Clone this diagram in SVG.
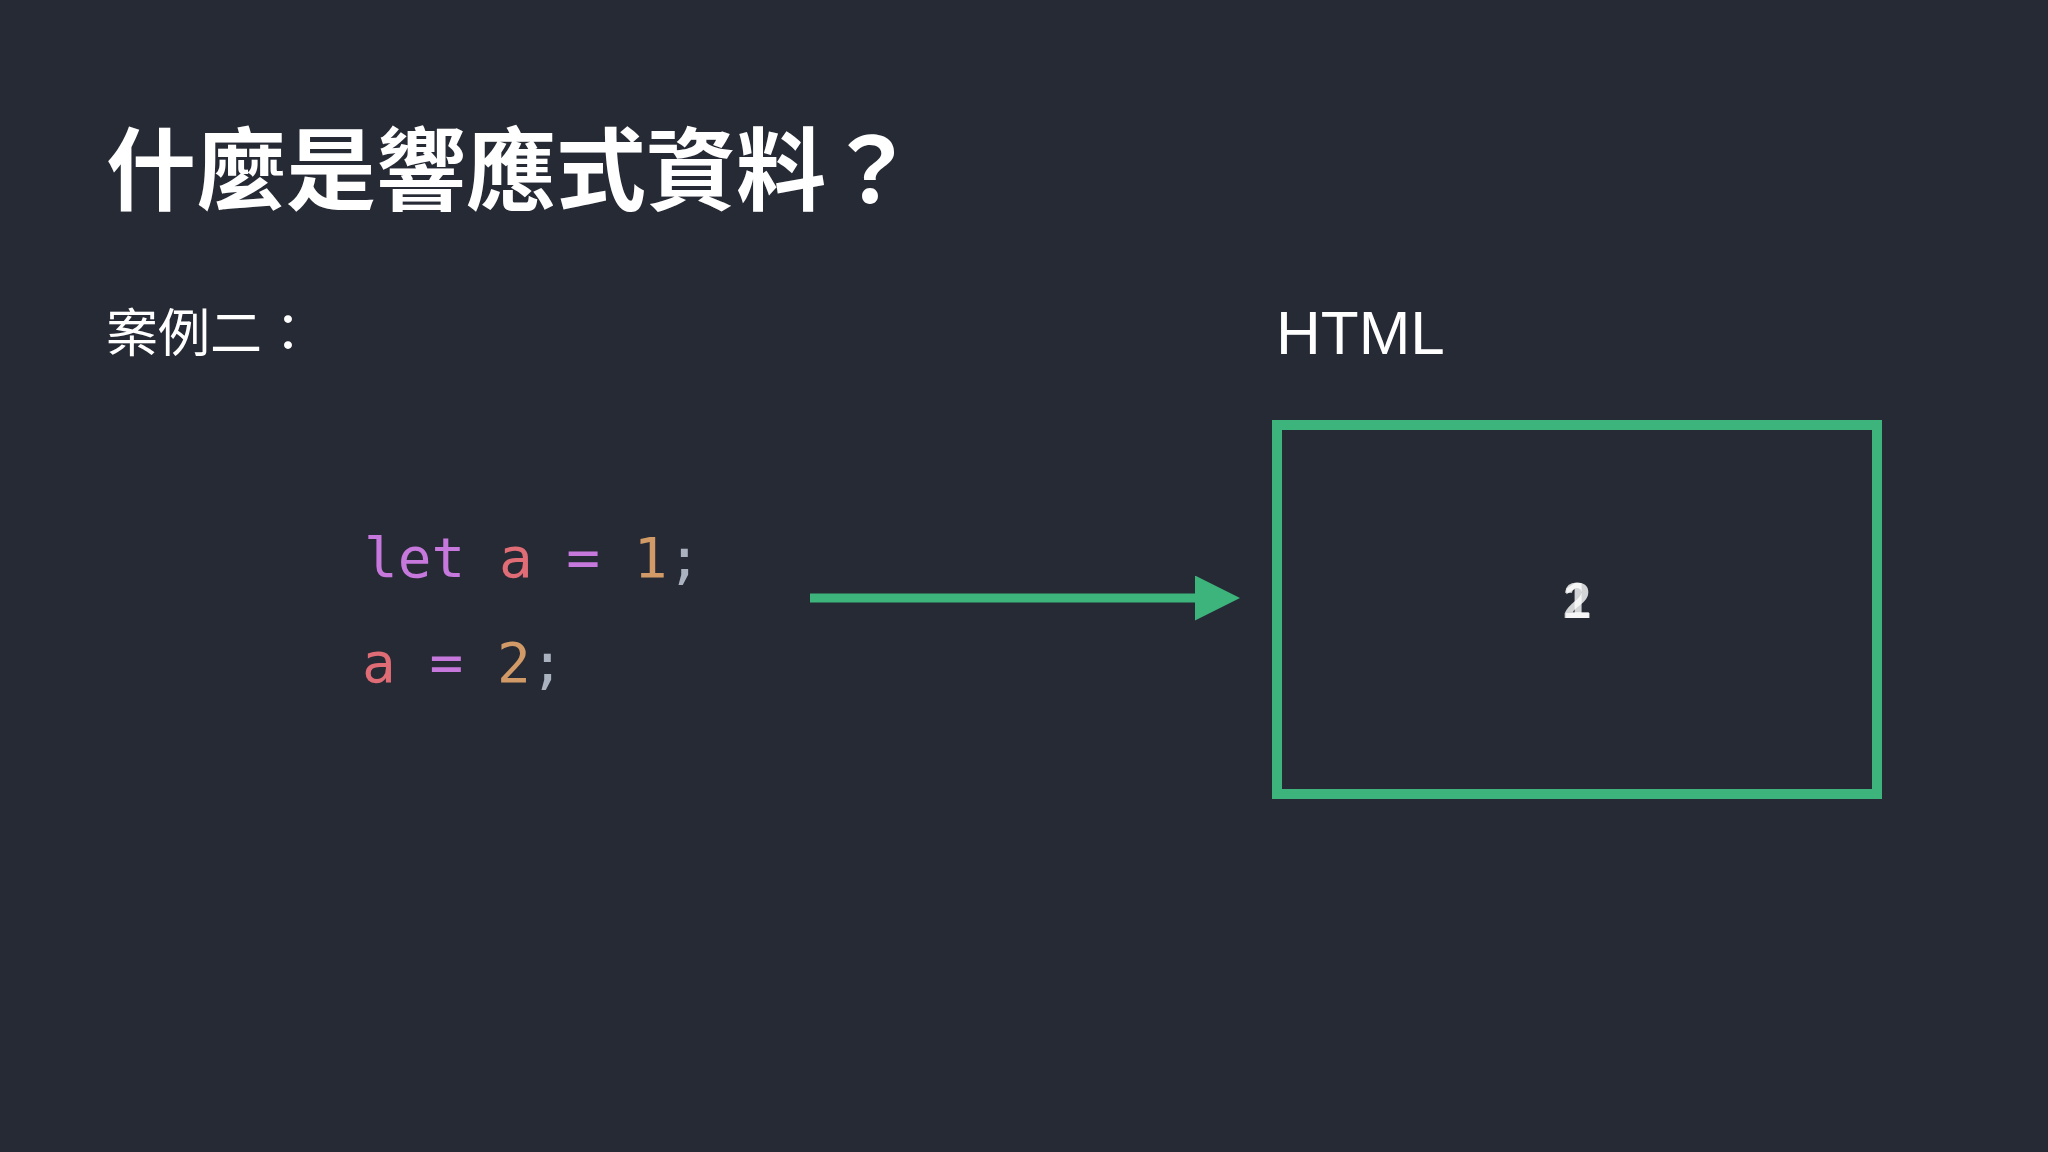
<svg xmlns="http://www.w3.org/2000/svg" width="2048" height="1152" viewBox="0 0 2048 1152">
<defs>
<style>
.cjk{font-family:"Noto Sans CJK TC","Noto Sans CJK SC",sans-serif;fill:#ffffff}
.code{font-family:"DejaVu Sans Mono","Liberation Mono",monospace;font-size:56px}
.kw{fill:#c678dd}.var{fill:#e06c75}.num{fill:#d19a66}.pun{fill:#abb2bf}
</style>
<marker id="ah" markerWidth="5" markerHeight="5" refX="0" refY="2.5" orient="auto" markerUnits="strokeWidth"><path d="M0,0 L5,2.5 L0,5 Z" fill="#3cb47c"/></marker>
</defs>
<rect width="2048" height="1152" fill="#262a35"/>
<text class="cjk" x="106" y="203" font-size="90" font-weight="bold">什麼是響應式資料？</text>
<text class="cjk" x="106" y="352" font-size="52">案例二：</text>
<text x="1276" y="354" font-family="'Liberation Sans',sans-serif" font-size="62" fill="#ffffff">HTML</text>
<g id="code">
<text class="code" x="364" y="577" xml:space="preserve"><tspan class="kw">let</tspan> <tspan class="var">a</tspan> <tspan class="kw">=</tspan> <tspan class="num">1</tspan><tspan class="pun">;</tspan></text>
<text class="code" x="362" y="682" xml:space="preserve"><tspan class="var">a</tspan> <tspan class="kw">=</tspan> <tspan class="num">2</tspan><tspan class="pun">;</tspan></text>
</g>
<g id="connectors">
<line x1="810" y1="598" x2="1195" y2="598" stroke="#3cb47c" stroke-width="9" marker-end="url(#ah)"/>
</g>
<g id="html-box">
<rect x="1277" y="425" width="600" height="369" fill="none" stroke="#3cb47c" stroke-width="10"/>
<text x="1577" y="618" font-family="'Liberation Sans',sans-serif" font-size="50" font-weight="bold" fill="#ffffff" text-anchor="middle" opacity="0.8">1</text>
<text x="1577" y="618" font-family="'Liberation Sans',sans-serif" font-size="50" font-weight="bold" fill="#ffffff" text-anchor="middle" opacity="0.8">2</text>
</g>
</svg>
